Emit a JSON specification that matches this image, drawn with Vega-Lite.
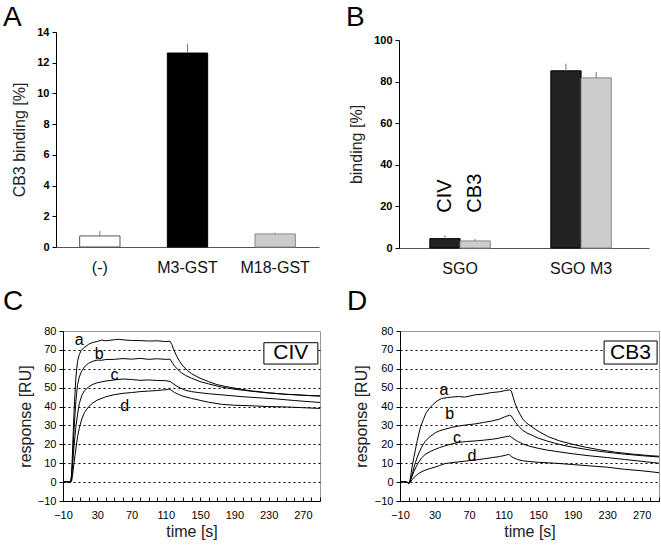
{
  "$schema": "https://vega.github.io/schema/vega-lite/v6.json",
  "background": "white",
  "padding": {"left": 2, "top": 4, "right": 2, "bottom": 2},
  "config": {
    "font": "Liberation Sans",
    "view": {"stroke": null},
    "title": {"fontSize": 28, "fontWeight": "normal", "color": "black", "anchor": "start", "frame": "group", "baseline": "alphabetic"}
  },
  "columns": 2,
  "align": "none",
  "bounds": "full",
  "spacing": {"row": 11, "column": 20},
  "resolve": {"scale": {"fill": "independent", "stroke": "independent"}},
  "concat": [
    {
      "title": {"text": "A", "dx": -60, "offset": -6},
      "width": 256,
      "height": 215,
      "data": {"values": [
        {"group": "(-)", "value": 0.72, "err": 1.04},
        {"group": "M3-GST", "value": 12.63, "err": 13.22},
        {"group": "M18-GST", "value": 0.85, "err": 0.93}
      ]},
      "encoding": {
        "x": {"field": "group", "type": "nominal", "sort": null,
          "scale": {"paddingInner": 0.54, "paddingOuter": 0.27, "range": [-7, 256]},
          "axis": {"title": null, "ticks": false, "labelAngle": 0, "labelFontSize": 16, "labelPadding": 12, "domainColor": "#555", "labelColor": "#111"}},
        "y": {"field": "value", "type": "quantitative", "scale": {"domain": [0, 14]},
          "axis": {"title": "CB3 binding [%]", "offset": 7, "values": [0, 2, 4, 6, 8, 10, 12, 14], "format": "d", "grid": false, "domainColor": "black", "tickColor": "black", "tickSize": 4, "labelPadding": 3, "labelFontWeight": "bold", "labelFontSize": 11, "labelColor": "black", "titleFontSize": 16, "titleFontWeight": "normal", "titleColor": "#222", "titlePadding": 9}}
      },
      "layer": [
        {"mark": {"type": "bar", "strokeWidth": 1},
         "encoding": {
           "fill": {"field": "group", "type": "nominal", "scale": {"domain": ["(-)", "M3-GST", "M18-GST"], "range": ["white", "black", "#cccccc"]}, "legend": null},
           "stroke": {"field": "group", "type": "nominal", "scale": {"domain": ["(-)", "M3-GST", "M18-GST"], "range": ["#555555", "black", "#888888"]}, "legend": null}
         }},
        {"mark": {"type": "rule", "color": "#777777"},
         "encoding": {"y2": {"field": "err"}}}
      ]
    },
    {
      "title": {"text": "B", "dx": -53, "offset": 0},
      "width": 250,
      "height": 216,
      "layer": [
        {
          "data": {"values": [
            {"group": "SGO", "protein": "CIV", "value": 4.5, "err": 6.1},
            {"group": "SGO", "protein": "CB3", "value": 3.4, "err": 4.3},
            {"group": "SGO M3", "protein": "CIV", "value": 85.2, "err": 88.6},
            {"group": "SGO M3", "protein": "CB3", "value": 81.8, "err": 84.6}
          ]},
          "encoding": {
            "x": {"field": "group", "type": "nominal", "sort": null,
              "scale": {"paddingInner": 0.5, "paddingOuter": 0.283, "align": 0.45},
              "axis": {"title": null, "ticks": false, "labelAngle": 0, "labelFontSize": 16, "labelPadding": 12, "domainColor": "#555", "labelColor": "#111"}},
            "xOffset": {"field": "protein", "type": "nominal", "sort": ["CIV", "CB3"], "scale": {"paddingInner": 0, "paddingOuter": 0}},
            "y": {"field": "value", "type": "quantitative", "scale": {"domain": [0, 100], "range": [216, 8]},
              "axis": {"title": "binding [%]", "values": [0, 20, 40, 60, 80, 100], "format": "d", "grid": false, "domainColor": "black", "tickColor": "black", "tickSize": 4, "labelPadding": 3, "labelFontWeight": "bold", "labelFontSize": 11, "labelColor": "black", "titleFontSize": 16, "titleFontWeight": "normal", "titleColor": "#222", "titlePadding": 9}}
          },
          "layer": [
            {"mark": {"type": "bar", "strokeWidth": 1},
             "encoding": {
               "fill": {"field": "protein", "type": "nominal", "scale": {"domain": ["CIV", "CB3"], "range": ["#222222", "#cccccc"]}, "legend": null},
               "stroke": {"field": "protein", "type": "nominal", "scale": {"domain": ["CIV", "CB3"], "range": ["#000000", "#888888"]}, "legend": null}
             }},
            {"mark": {"type": "rule", "color": "#777777"},
             "encoding": {"y2": {"field": "err"}}}
          ]
        },
        {
          "data": {"values": [
            {"group": "SGO", "protein": "CIV", "pos": 17},
            {"group": "SGO", "protein": "CB3", "pos": 17}
          ]},
          "mark": {"type": "text", "angle": 270, "align": "left", "baseline": "middle", "fontSize": 20, "color": "black"},
          "encoding": {
            "x": {"field": "group", "type": "nominal", "sort": null},
            "xOffset": {"field": "protein", "type": "nominal", "sort": ["CIV", "CB3"]},
            "y": {"field": "pos", "type": "quantitative"},
            "text": {"field": "protein"}
          }
        }
      ]
    },
    {
      "title": {"text": "C", "dx": -60, "offset": 9},
      "width": 257,
      "height": 170,
      "view": {"stroke": "#999999"},
      "layer": [
        {
          "data": {"values": [
            {"c":"a","t":-10,"y":0},{"c":"a","t":-6,"y":0.3},{"c":"a","t":-3,"y":0},{"c":"a","t":-1,"y":0.2},{"c":"a","t":0,"y":4},{"c":"a","t":1,"y":15},{"c":"a","t":2,"y":27},{"c":"a","t":3,"y":38},{"c":"a","t":4,"y":47},{"c":"a","t":5,"y":55},{"c":"a","t":6,"y":60},{"c":"a","t":7,"y":64},{"c":"a","t":9,"y":67.5},{"c":"a","t":11,"y":69.5},{"c":"a","t":14,"y":71},{"c":"a","t":17,"y":72},{"c":"a","t":20,"y":73},{"c":"a","t":25,"y":74},{"c":"a","t":30,"y":74.4},{"c":"a","t":35,"y":75.2},{"c":"a","t":40,"y":74.8},{"c":"a","t":45,"y":75.1},{"c":"a","t":50,"y":75.4},{"c":"a","t":55,"y":75.6},{"c":"a","t":60,"y":75.3},{"c":"a","t":70,"y":75},{"c":"a","t":80,"y":74.9},{"c":"a","t":90,"y":74.7},{"c":"a","t":100,"y":74.8},{"c":"a","t":110,"y":74.4},{"c":"a","t":115,"y":74.6},{"c":"a","t":117,"y":72.8},{"c":"a","t":119,"y":70.5},{"c":"a","t":122,"y":67.3},{"c":"a","t":126,"y":64},{"c":"a","t":130,"y":61.5},{"c":"a","t":135,"y":59.2},{"c":"a","t":140,"y":57.4},{"c":"a","t":150,"y":55},{"c":"a","t":160,"y":53.2},{"c":"a","t":170,"y":51.6},{"c":"a","t":180,"y":50.6},{"c":"a","t":190,"y":49.8},{"c":"a","t":200,"y":49},{"c":"a","t":210,"y":48.3},{"c":"a","t":220,"y":47.8},{"c":"a","t":230,"y":47.3},{"c":"a","t":240,"y":46.9},{"c":"a","t":250,"y":46.5},{"c":"a","t":260,"y":46.3},{"c":"a","t":270,"y":46},{"c":"a","t":280,"y":45.8},{"c":"a","t":290,"y":45.7},
            {"c":"b","t":-10,"y":0},{"c":"b","t":-6,"y":0.2},{"c":"b","t":-3,"y":0},{"c":"b","t":-1,"y":0.1},{"c":"b","t":0,"y":3},{"c":"b","t":1,"y":10},{"c":"b","t":2,"y":20},{"c":"b","t":3,"y":28},{"c":"b","t":4,"y":36},{"c":"b","t":5,"y":42.5},{"c":"b","t":6,"y":47.5},{"c":"b","t":7,"y":51.5},{"c":"b","t":9,"y":55.5},{"c":"b","t":11,"y":58},{"c":"b","t":13,"y":59.7},{"c":"b","t":16,"y":61.5},{"c":"b","t":20,"y":63},{"c":"b","t":25,"y":64},{"c":"b","t":30,"y":64.6},{"c":"b","t":35,"y":64.5},{"c":"b","t":40,"y":64.9},{"c":"b","t":50,"y":65},{"c":"b","t":60,"y":65.4},{"c":"b","t":70,"y":65.1},{"c":"b","t":80,"y":65.5},{"c":"b","t":90,"y":65},{"c":"b","t":100,"y":65.3},{"c":"b","t":110,"y":65},{"c":"b","t":115,"y":65.1},{"c":"b","t":117,"y":63.6},{"c":"b","t":120,"y":61.6},{"c":"b","t":124,"y":59.6},{"c":"b","t":128,"y":58},{"c":"b","t":133,"y":56.5},{"c":"b","t":140,"y":55},{"c":"b","t":150,"y":53.2},{"c":"b","t":160,"y":52},{"c":"b","t":175,"y":50.3},{"c":"b","t":190,"y":49.2},{"c":"b","t":210,"y":48.1},{"c":"b","t":230,"y":47.2},{"c":"b","t":250,"y":46.5},{"c":"b","t":270,"y":46},{"c":"b","t":290,"y":45.5},
            {"c":"c","t":-10,"y":0},{"c":"c","t":-6,"y":0.2},{"c":"c","t":-3,"y":0},{"c":"c","t":-1,"y":0.1},{"c":"c","t":0,"y":1.5},{"c":"c","t":1,"y":8},{"c":"c","t":2,"y":14},{"c":"c","t":3,"y":19.5},{"c":"c","t":4,"y":24.5},{"c":"c","t":5,"y":29},{"c":"c","t":7,"y":36},{"c":"c","t":9,"y":41.5},{"c":"c","t":12,"y":46},{"c":"c","t":15,"y":48.3},{"c":"c","t":20,"y":50.5},{"c":"c","t":25,"y":51.8},{"c":"c","t":30,"y":52.6},{"c":"c","t":40,"y":53.5},{"c":"c","t":50,"y":54.1},{"c":"c","t":60,"y":54.6},{"c":"c","t":70,"y":54.3},{"c":"c","t":80,"y":53.9},{"c":"c","t":90,"y":54.1},{"c":"c","t":100,"y":53.8},{"c":"c","t":110,"y":53.7},{"c":"c","t":115,"y":53.3},{"c":"c","t":118,"y":52.3},{"c":"c","t":122,"y":51},{"c":"c","t":127,"y":49.8},{"c":"c","t":133,"y":48.6},{"c":"c","t":140,"y":47.9},{"c":"c","t":150,"y":47.3},{"c":"c","t":160,"y":46.8},{"c":"c","t":180,"y":46},{"c":"c","t":200,"y":45.2},{"c":"c","t":220,"y":44.6},{"c":"c","t":240,"y":44},{"c":"c","t":260,"y":43.2},{"c":"c","t":280,"y":42.5},{"c":"c","t":290,"y":42.2},
            {"c":"d","t":-10,"y":0},{"c":"d","t":-6,"y":0.2},{"c":"d","t":-3,"y":0},{"c":"d","t":-1,"y":0.1},{"c":"d","t":0,"y":0.5},{"c":"d","t":1,"y":3},{"c":"d","t":2,"y":7},{"c":"d","t":3,"y":10.5},{"c":"d","t":4,"y":14},{"c":"d","t":5,"y":17.5},{"c":"d","t":7,"y":24},{"c":"d","t":9,"y":28.5},{"c":"d","t":12,"y":33.5},{"c":"d","t":15,"y":36.8},{"c":"d","t":20,"y":40},{"c":"d","t":25,"y":42},{"c":"d","t":30,"y":43.4},{"c":"d","t":40,"y":45.2},{"c":"d","t":50,"y":46.3},{"c":"d","t":60,"y":47},{"c":"d","t":70,"y":47.4},{"c":"d","t":80,"y":47.9},{"c":"d","t":90,"y":48.2},{"c":"d","t":100,"y":48.5},{"c":"d","t":110,"y":48.9},{"c":"d","t":114,"y":49.3},{"c":"d","t":117,"y":48.5},{"c":"d","t":120,"y":47.5},{"c":"d","t":125,"y":46.4},{"c":"d","t":130,"y":45.5},{"c":"d","t":140,"y":44.3},{"c":"d","t":150,"y":43.3},{"c":"d","t":160,"y":42.3},{"c":"d","t":175,"y":41.2},{"c":"d","t":190,"y":40.7},{"c":"d","t":210,"y":40.4},{"c":"d","t":230,"y":40},{"c":"d","t":250,"y":39.8},{"c":"d","t":270,"y":39.4},{"c":"d","t":290,"y":39}
          ]},
          "mark": {"type": "line", "color": "black", "strokeWidth": 1},
          "encoding": {
            "x": {"field": "t", "type": "quantitative", "scale": {"domain": [-10, 290], "nice": false, "zero": false},
              "axis": {"title": "time [s]", "values": [-10,0,10,20,30,40,50,60,70,80,90,100,110,120,130,140,150,160,170,180,190,200,210,220,230,240,250,260,270,280,290], "tickCount": 100,
                "labelExpr": "(datum.value + 10) % 40 == 0 ? datum.label : ''", "labelOverlap": false, "labelFlush": false, "grid": false,
                "domainColor": "black", "tickColor": "black", "tickSize": -4, "labelPadding": 12, "labelFontSize": 11, "labelColor": "black",
                "titleFontSize": 16, "titleFontWeight": "normal", "titleColor": "#222", "titlePadding": 3}},
            "y": {"field": "y", "type": "quantitative", "scale": {"domain": [-10, 80], "nice": false, "zero": false},
              "axis": {"title": "response [RU]", "values": [-10,0,10,20,30,40,50,60,70,80], "tickCount": 100, "format": "d", "labelOverlap": false, "grid": true, "gridColor": "black", "gridDash": [2, 3], "gridWidth": 1,
                "gridOpacity": {"condition": {"test": "datum.value < 0 || datum.value > 75", "value": 0}, "value": 1},
                "domainColor": "black", "tickColor": "black", "tickSize": 4, "labelPadding": 3, "labelFontSize": 11, "labelColor": "black",
                "titleFontSize": 16, "titleFontWeight": "normal", "titleColor": "#222", "titlePadding": 4}},
            "detail": {"field": "c", "type": "nominal"}
          }
        },
        {
          "data": {"values": [
            {"label": "a", "t": 9, "y": 75.4},
            {"label": "b", "t": 32.4, "y": 68},
            {"label": "c", "t": 50, "y": 56.5},
            {"label": "d", "t": 62, "y": 40.2}
          ]},
          "mark": {"type": "text", "fontSize": 16, "color": "black", "baseline": "middle"},
          "encoding": {
            "x": {"field": "t", "type": "quantitative"},
            "y": {"field": "y", "type": "quantitative"},
            "text": {"field": "label"}
          }
        },
        {
          "data": {"values": [{"name": "CIV"}]},
          "mark": {"type": "rect", "fill": "white", "stroke": "black", "strokeWidth": 1},
          "encoding": {
            "x": {"datum": 224.5, "type": "quantitative"}, "x2": {"datum": 287.5},
            "y": {"datum": 62.5, "type": "quantitative"}, "y2": {"datum": 73.8}
          }
        },
        {
          "data": {"values": [{"name": "CIV"}]},
          "mark": {"type": "text", "fontSize": 21, "color": "black", "baseline": "middle"},
          "encoding": {
            "x": {"datum": 256, "type": "quantitative"},
            "y": {"datum": 68.1, "type": "quantitative"},
            "text": {"field": "name"}
          }
        }
      ]
    },
    {
      "title": {"text": "D", "dx": -53, "offset": 9},
      "width": 259,
      "height": 170,
      "view": {"stroke": "#999999"},
      "layer": [
        {
          "data": {"values": [
            {"c":"a","t":-10,"y":0},{"c":"a","t":-6,"y":0.2},{"c":"a","t":-3,"y":0},{"c":"a","t":-1,"y":-0.3},{"c":"a","t":0,"y":-0.8},{"c":"a","t":1,"y":-0.5},{"c":"a","t":2,"y":2},{"c":"a","t":3,"y":5},{"c":"a","t":4,"y":8},{"c":"a","t":6,"y":13},{"c":"a","t":8,"y":17.5},{"c":"a","t":10,"y":22},{"c":"a","t":12,"y":26},{"c":"a","t":14,"y":29.5},{"c":"a","t":17,"y":33},{"c":"a","t":20,"y":36.5},{"c":"a","t":24,"y":39},{"c":"a","t":28,"y":41},{"c":"a","t":33,"y":43},{"c":"a","t":38,"y":44.2},{"c":"a","t":45,"y":44.8},{"c":"a","t":50,"y":45},{"c":"a","t":58,"y":45.3},{"c":"a","t":65,"y":45},{"c":"a","t":70,"y":45.5},{"c":"a","t":77,"y":46.2},{"c":"a","t":85,"y":46.5},{"c":"a","t":96,"y":47.4},{"c":"a","t":105,"y":47.8},{"c":"a","t":112,"y":48.5},{"c":"a","t":117,"y":48.8},{"c":"a","t":119,"y":48.2},{"c":"a","t":121,"y":45},{"c":"a","t":123,"y":42},{"c":"a","t":126,"y":38.5},{"c":"a","t":129,"y":36},{"c":"a","t":132,"y":33.5},{"c":"a","t":136,"y":31.5},{"c":"a","t":141,"y":29.8},{"c":"a","t":150,"y":27},{"c":"a","t":162,"y":24},{"c":"a","t":175,"y":21.8},{"c":"a","t":190,"y":20},{"c":"a","t":205,"y":18.5},{"c":"a","t":220,"y":17.2},{"c":"a","t":240,"y":15.8},{"c":"a","t":260,"y":14.8},{"c":"a","t":280,"y":14},{"c":"a","t":290,"y":13.7},
            {"c":"b","t":-10,"y":0},{"c":"b","t":-6,"y":0.2},{"c":"b","t":-3,"y":0},{"c":"b","t":-1,"y":-0.3},{"c":"b","t":0,"y":-0.8},{"c":"b","t":1,"y":-0.5},{"c":"b","t":2,"y":1},{"c":"b","t":4,"y":4},{"c":"b","t":6,"y":7.5},{"c":"b","t":8,"y":10.5},{"c":"b","t":10,"y":13.3},{"c":"b","t":12,"y":15.5},{"c":"b","t":15,"y":18.5},{"c":"b","t":19,"y":21.5},{"c":"b","t":24,"y":23.8},{"c":"b","t":31,"y":26.2},{"c":"b","t":36,"y":27.2},{"c":"b","t":42,"y":28},{"c":"b","t":50,"y":29},{"c":"b","t":58,"y":29.7},{"c":"b","t":67,"y":30.3},{"c":"b","t":77,"y":30.8},{"c":"b","t":87,"y":31.6},{"c":"b","t":97,"y":32.4},{"c":"b","t":105,"y":33.3},{"c":"b","t":112,"y":34.7},{"c":"b","t":117,"y":35.4},{"c":"b","t":119,"y":35},{"c":"b","t":121,"y":33.5},{"c":"b","t":124,"y":31.5},{"c":"b","t":128,"y":29.3},{"c":"b","t":132,"y":27.5},{"c":"b","t":137,"y":26},{"c":"b","t":143,"y":24.8},{"c":"b","t":150,"y":23.3},{"c":"b","t":160,"y":21.8},{"c":"b","t":170,"y":20.5},{"c":"b","t":180,"y":19.4},{"c":"b","t":190,"y":18.5},{"c":"b","t":210,"y":17},{"c":"b","t":230,"y":15.8},{"c":"b","t":250,"y":14.8},{"c":"b","t":270,"y":14},{"c":"b","t":290,"y":13.3},
            {"c":"c","t":-10,"y":0},{"c":"c","t":-6,"y":0.2},{"c":"c","t":-3,"y":0},{"c":"c","t":-1,"y":-0.2},{"c":"c","t":0,"y":-0.6},{"c":"c","t":2,"y":0.8},{"c":"c","t":4,"y":3},{"c":"c","t":6,"y":5.5},{"c":"c","t":8,"y":7.5},{"c":"c","t":10,"y":9.2},{"c":"c","t":12,"y":10.8},{"c":"c","t":15,"y":12.8},{"c":"c","t":19,"y":14.6},{"c":"c","t":25,"y":16.2},{"c":"c","t":31,"y":17.4},{"c":"c","t":36,"y":18.3},{"c":"c","t":42,"y":19.2},{"c":"c","t":50,"y":20.2},{"c":"c","t":58,"y":21},{"c":"c","t":67,"y":21.5},{"c":"c","t":77,"y":21.8},{"c":"c","t":87,"y":22.2},{"c":"c","t":97,"y":22.7},{"c":"c","t":105,"y":23.3},{"c":"c","t":112,"y":24},{"c":"c","t":117,"y":24.4},{"c":"c","t":119,"y":23.8},{"c":"c","t":122,"y":22.8},{"c":"c","t":126,"y":21.6},{"c":"c","t":132,"y":20.3},{"c":"c","t":140,"y":19},{"c":"c","t":150,"y":17.9},{"c":"c","t":160,"y":17},{"c":"c","t":170,"y":16.3},{"c":"c","t":190,"y":15},{"c":"c","t":210,"y":13.9},{"c":"c","t":230,"y":13},{"c":"c","t":250,"y":12},{"c":"c","t":270,"y":11},{"c":"c","t":290,"y":10},
            {"c":"d","t":-10,"y":0},{"c":"d","t":-6,"y":0.2},{"c":"d","t":-3,"y":0},{"c":"d","t":-1,"y":-0.2},{"c":"d","t":0,"y":-0.5},{"c":"d","t":2,"y":0},{"c":"d","t":4,"y":1.3},{"c":"d","t":7,"y":2.8},{"c":"d","t":10,"y":4},{"c":"d","t":13,"y":5},{"c":"d","t":19,"y":6.3},{"c":"d","t":25,"y":7.2},{"c":"d","t":31,"y":8},{"c":"d","t":36,"y":8.8},{"c":"d","t":42,"y":9.8},{"c":"d","t":50,"y":10.3},{"c":"d","t":58,"y":10.7},{"c":"d","t":67,"y":11.2},{"c":"d","t":77,"y":11.7},{"c":"d","t":87,"y":12.3},{"c":"d","t":97,"y":13},{"c":"d","t":105,"y":13.5},{"c":"d","t":112,"y":14.2},{"c":"d","t":116,"y":14.7},{"c":"d","t":118,"y":14},{"c":"d","t":121,"y":13},{"c":"d","t":126,"y":12},{"c":"d","t":132,"y":11.3},{"c":"d","t":140,"y":10.9},{"c":"d","t":150,"y":10.5},{"c":"d","t":170,"y":10},{"c":"d","t":190,"y":9.3},{"c":"d","t":210,"y":8.6},{"c":"d","t":230,"y":7.9},{"c":"d","t":250,"y":6.8},{"c":"d","t":270,"y":6},{"c":"d","t":290,"y":5}
          ]},
          "mark": {"type": "line", "color": "black", "strokeWidth": 1},
          "encoding": {
            "x": {"field": "t", "type": "quantitative", "scale": {"domain": [-10, 290], "nice": false, "zero": false},
              "axis": {"title": "time [s]", "values": [-10,0,10,20,30,40,50,60,70,80,90,100,110,120,130,140,150,160,170,180,190,200,210,220,230,240,250,260,270,280,290], "tickCount": 100,
                "labelExpr": "(datum.value + 10) % 40 == 0 ? datum.label : ''", "labelOverlap": false, "labelFlush": false, "grid": false,
                "domainColor": "black", "tickColor": "black", "tickSize": -4, "labelPadding": 12, "labelFontSize": 11, "labelColor": "black",
                "titleFontSize": 16, "titleFontWeight": "normal", "titleColor": "#222", "titlePadding": 3}},
            "y": {"field": "y", "type": "quantitative", "scale": {"domain": [-10, 80], "nice": false, "zero": false},
              "axis": {"title": "response [RU]", "values": [-10,0,10,20,30,40,50,60,70,80], "tickCount": 100, "format": "d", "labelOverlap": false, "grid": true, "gridColor": "black", "gridDash": [2, 3], "gridWidth": 1,
                "gridOpacity": {"condition": {"test": "datum.value < 0 || datum.value > 75", "value": 0}, "value": 1},
                "domainColor": "black", "tickColor": "black", "tickSize": 4, "labelPadding": 3, "labelFontSize": 11, "labelColor": "black",
                "titleFontSize": 16, "titleFontWeight": "normal", "titleColor": "#222", "titlePadding": 5}},
            "detail": {"field": "c", "type": "nominal"}
          }
        },
        {
          "data": {"values": [
            {"label": "a", "t": 41, "y": 49},
            {"label": "b", "t": 47.5, "y": 35.8},
            {"label": "c", "t": 56, "y": 23.2},
            {"label": "d", "t": 73.4, "y": 14}
          ]},
          "mark": {"type": "text", "fontSize": 16, "color": "black", "baseline": "middle"},
          "encoding": {
            "x": {"field": "t", "type": "quantitative"},
            "y": {"field": "y", "type": "quantitative"},
            "text": {"field": "label"}
          }
        },
        {
          "data": {"values": [{"name": "CB3"}]},
          "mark": {"type": "rect", "fill": "white", "stroke": "black", "strokeWidth": 1},
          "encoding": {
            "x": {"datum": 226.4, "type": "quantitative"}, "x2": {"datum": 287.8},
            "y": {"datum": 62.5, "type": "quantitative"}, "y2": {"datum": 74.7}
          }
        },
        {
          "data": {"values": [{"name": "CB3"}]},
          "mark": {"type": "text", "fontSize": 21, "color": "black", "baseline": "middle"},
          "encoding": {
            "x": {"datum": 257, "type": "quantitative"},
            "y": {"datum": 68.6, "type": "quantitative"},
            "text": {"field": "name"}
          }
        }
      ]
    }
  ]
}
